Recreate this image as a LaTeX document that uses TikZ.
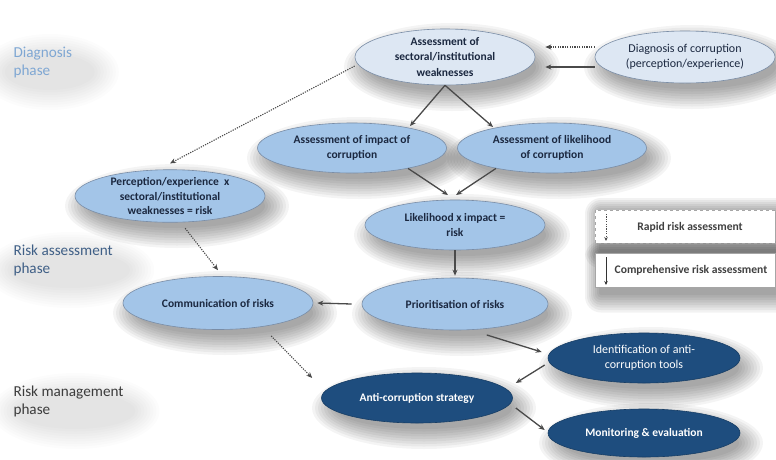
\documentclass[tikz,border=0pt]{standalone}
\usepackage{fontspec}
\setmainfont{Carlito}
\usetikzlibrary{shapes.geometric,arrows.meta,backgrounds}
\definecolor{palefill}{HTML}{DDE7F3}
\definecolor{midfill}{HTML}{A3C5E8}
\definecolor{darkfill}{HTML}{1E4D7E}
\definecolor{edgecol}{HTML}{7A8DA6}
\definecolor{txtdark}{HTML}{1B2840}
\definecolor{arrowcol}{HTML}{4A4A4A}
\definecolor{phaseA}{HTML}{7FA7D3}
\definecolor{phaseB}{HTML}{3F5F86}
\definecolor{phaseC}{HTML}{3C3C3C}
% soft shadow: stacked translucent ellipses
\newcommand{\softshadow}[4][0.045]{%
  \foreach \k in {0,...,8} {\fill[black,opacity=#1] ([shift={(7,-10)}]#2.center) ellipse [x radius={#3pt+3pt*\k}, y radius={#4pt+2.5pt*\k}];}}
\newcommand{\boxshadow}[3][0.05]{%
  \foreach \k in {0,...,7} {\fill[black,opacity=#1,rounded corners={2pt+2pt*\k}] ([shift={(4-2*\k,-8-2.5*\k)}]#2) rectangle ([shift={(4+2*\k,-2+2*\k)}]#3);}}
\tikzset{
  x=1pt,y=1pt,
  ell/.style={ellipse,inner sep=0pt,align=center,draw=edgecol,line width=0.6pt},
  boldtxt/.style={font=\fontsize{11.5}{15.5}\selectfont\bfseries},
  regtxt/.style={font=\fontsize{12}{15.5}\selectfont},
  paleell/.style={ell,fill=palefill,text=txtdark},
  midell/.style={ell,fill=midfill,text=txtdark},
  darkell/.style={ell,fill=darkfill,draw=darkfill!80!black,text=white},
  solidarrow/.style={draw=arrowcol,line width=1.3pt,-{Stealth[length=6pt,width=5pt]}},
  dotarrow/.style={draw=arrowcol,line width=1.1pt,dash pattern=on 1.2pt off 1.2pt,-{Stealth[length=6pt,width=5pt]}},
  phase/.style={anchor=west,align=left,font=\fontsize{15.2}{18}\selectfont},
  legbox/.style={fill=white,draw=gray!70,line width=0.6pt},
  legtext/.style={text=black!75,font=\fontsize{11.6}{13}\selectfont\bfseries}
}
\begin{document}
\begin{tikzpicture}
\useasboundingbox (0,0) rectangle (776,-459);

% phase labels
\node[phase,text=phaseA] (ph1) at (10,-62) {Diagnosis\\phase};
\node[phase,text=phaseB] (ph2) at (10,-260) {Risk assessment\\phase};
\node[phase,text=phaseC] (ph3) at (10,-401) {Risk management\\phase};

% nodes
\node[paleell,boldtxt,minimum width=180,minimum height=56] (A) at (445,-57) {Assessment of\\sectoral/institutional\\weaknesses};
\node[paleell,regtxt,minimum width=180,minimum height=52] (D) at (685,-57) {Diagnosis of corruption\\(perception/experience)};
\node[midell,boldtxt,minimum width=189,minimum height=50] (I) at (352,-148) {Assessment of impact of\\corruption};
\node[midell,boldtxt,minimum width=189,minimum height=50] (L) at (552,-148) {Assessment of likelihood\\of corruption};
\node[midell,boldtxt,minimum width=190,minimum height=52,font=\fontsize{11.5}{14.5}\selectfont\bfseries] (P) at (170,-196) {Perception/experience\ \ x\\sectoral/institutional\\weaknesses = risk};
\node[midell,boldtxt,minimum width=180,minimum height=50] (LI) at (455,-225) {Likelihood x impact =\\risk};
\node[midell,boldtxt,minimum width=186,minimum height=52] (PR) at (455,-304) {Prioritisation of risks};
\node[midell,boldtxt,minimum width=190,minimum height=53] (C) at (218,-303) {Communication of risks};
\node[darkell,boldtxt,minimum width=191,minimum height=50] (AS) at (417,-398) {Anti-corruption strategy};
\node[darkell,regtxt,minimum width=192,minimum height=50] (IT) at (644,-358) {Identification of anti-\\corruption tools};
\node[darkell,boldtxt,minimum width=192,minimum height=48] (ME) at (644,-433) {Monitoring \& evaluation};

% connectors
\draw[dotarrow] ([yshift=10pt]D.west) -- ([xshift=10pt,yshift=10pt]A.east);
\draw[solidarrow] ([yshift=-10pt]D.west) -- ([xshift=10pt,yshift=-10pt]A.east);
\draw[solidarrow] (A.south) -- ([shift={(58,22)}]I.center);
\draw[solidarrow] (A.south) -- ([shift={(-59,21)}]L.center);
\draw[dotarrow] ([yshift=-9pt]A.west) -- ([yshift=6pt]P.north);
\draw[solidarrow] (I.-20) -- ([shift={(-7,30)}]LI.center);
\draw[solidarrow] (L.200) -- ([shift={(1,30)}]LI.center);
\draw[solidarrow] (LI.south) -- ([yshift=2pt]PR.north);
\draw[solidarrow] ([xshift=-10pt]PR.west) -- ([xshift=4pt]C.east);
\draw[dotarrow] ([yshift=-6pt]P.-60) -- ([yshift=6pt]C.north);
\draw[dotarrow] ([shift={(4,-10)}]C.-25) -- ([shift={(-9,20)}]AS.west);
\draw[solidarrow] ([shift={(2,-6)}]PR.-40) -- ([shift={(-6,6)}]IT.west);
\draw[solidarrow] ([shift={(-3,-7)}]IT.west) -- ([shift={(3,15)}]AS.east);
\draw[solidarrow] ([shift={(3,-10)}]AS.east) -- ([shift={(-3,3)}]ME.west);

% legend
\coordinate (b1sw) at (595,-243);
\coordinate (b1ne) at (775,-210);
\coordinate (b2sw) at (595,-287);
\coordinate (b2ne) at (775,-253);
\draw[legbox,dashed] (b1sw) rectangle (b1ne);
\coordinate (r1) at (606,-214);
\coordinate (r2) at (606,-241);
\draw[dotarrow,line width=0.8pt,-{Stealth[length=4pt,width=3.5pt]}] (r1) -- (r2);
\node[legtext] (lt1) at (690,-227) {Rapid risk assessment};
\draw[legbox] (b2sw) rectangle (b2ne);
\coordinate (c1) at (606,-257);
\coordinate (c2) at (606,-285);
\draw[draw=black!80,line width=0.9pt,-{Stealth[length=4pt,width=3.5pt]}] (c1) -- (c2);
\node[legtext] (lt2) at (691,-270) {Comprehensive risk assessment};

% background and soft shadows
\begin{pgfonlayer}{background}
\fill[white] (0,0) rectangle (776,-459);
\softshadow[0.012]{ph1}{45}{18}
\softshadow[0.012]{ph2}{60}{18}
\softshadow[0.012]{ph3}{60}{18}
\softshadow{A}{84}{24}
\softshadow{D}{84}{22}
\softshadow{I}{88}{21}
\softshadow{L}{88}{21}
\softshadow{P}{88}{22}
\softshadow{LI}{84}{21}
\softshadow{PR}{86}{22}
\softshadow{C}{88}{22}
\softshadow{AS}{88}{21}
\softshadow{IT}{88}{21}
\softshadow{ME}{88}{20}
\boxshadow{b1sw}{b1ne}
\boxshadow{b2sw}{b2ne}
\end{pgfonlayer}
\end{tikzpicture}
\end{document}
